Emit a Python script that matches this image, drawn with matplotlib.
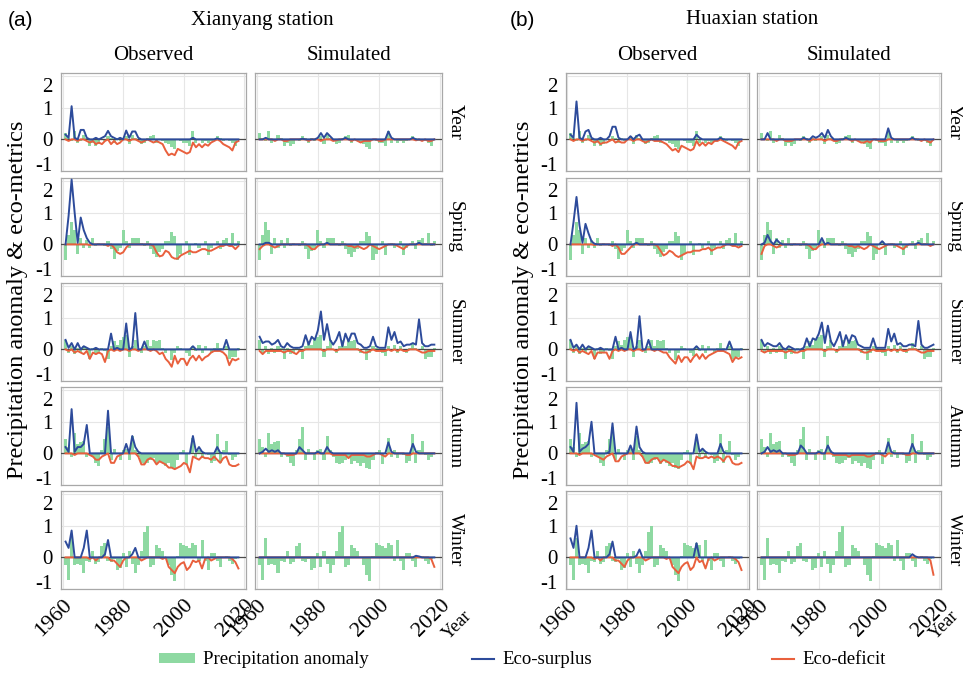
import matplotlib
matplotlib.use("Agg")
import matplotlib.pyplot as plt
from matplotlib.lines import Line2D
from matplotlib.patches import Patch
from matplotlib.transforms import blended_transform_factory, ScaledTranslation

plt.rcParams["font.family"] = ["Liberation Serif", "DejaVu Serif"]

# ---------------------------------------------------------------- data
YEARS = list(range(1961, 2019))
SEASONS = ["Year", "Spring", "Summer", "Autumn", "Winter"]
STATIONS = ["Xianyang station", "Huaxian station"]
COLUMNS = ["Observed", "Simulated"]
X_TICKS = [1960, 1980, 2000, 2020]
Y_TICKS = [-1, 0, 1, 2]

# precipitation anomaly (shared by all panels of one season)
PRECIP_YEAR = [
    0.20, 0.05, -0.05, 0.25, -0.10, -0.05, 0.15, 0.05, -0.20, -0.10,
    -0.20, -0.15, 0.00, -0.05, 0.12, 0.05, -0.10, 0.05, -0.05, 0.00,
    0.10, -0.15, 0.15, 0.05, -0.05, -0.15, -0.10, 0.05, 0.10, 0.15,
    -0.10, 0.00, -0.05, -0.10, -0.15, -0.25, -0.30, 0.00, -0.05, -0.10,
    -0.10, -0.20, 0.25, -0.10, 0.00, -0.10, -0.05, -0.10, -0.05, 0.00,
    0.10, 0.05, -0.05, 0.00, -0.05, -0.10, -0.20, 0.00]
PRECIP_SPRING = [
    -0.50, 0.30, 0.70, 0.45, -0.30, 0.20, -0.10, 0.15, -0.10, 0.20,
    -0.05, 0.05, 0.00, -0.05, 0.10, -0.15, -0.45, -0.20, -0.10, 0.45,
    0.10, -0.10, 0.20, 0.20, 0.20, 0.05, -0.05, 0.10, -0.15, -0.30,
    -0.40, -0.25, -0.15, 0.10, 0.10, 0.40, 0.25, -0.50, -0.30, 0.00,
    0.10, -0.35, 0.00, 0.05, -0.10, 0.00, 0.10, -0.35, -0.10, 0.00,
    0.10, -0.15, 0.15, 0.20, 0.05, 0.35, -0.05, 0.10]
PRECIP_SUMMER = [
    0.30, -0.10, 0.10, -0.15, 0.05, -0.10, 0.10, 0.05, -0.30, 0.05,
    -0.15, -0.10, 0.05, -0.05, -0.30, 0.10, 0.25, 0.15, 0.30, 0.40,
    0.45, -0.25, 0.10, 0.30, 0.00, -0.10, 0.10, 0.30, 0.10, 0.30,
    0.25, 0.30, 0.05, -0.10, 0.00, -0.35, -0.10, 0.10, 0.05, 0.00,
    -0.10, -0.20, 0.10, -0.05, 0.15, -0.10, 0.10, 0.00, -0.10, 0.05,
    0.20, 0.05, 0.00, 0.10, -0.30, -0.25, -0.25, 0.05]
PRECIP_AUTUMN = [
    0.45, 0.20, -0.10, 0.65, 0.30, 0.35, 0.40, -0.10, 0.00, -0.10,
    -0.30, -0.40, 0.10, 0.45, 0.85, -0.20, 0.15, 0.00, -0.20, 0.10,
    0.15, -0.20, 0.55, 0.10, -0.10, -0.30, -0.35, -0.30, -0.20, -0.15,
    -0.35, -0.25, -0.30, -0.40, -0.30, -0.45, -0.50, -0.20, 0.05, 0.10,
    -0.35, 0.00, 0.50, -0.10, 0.10, -0.15, 0.00, -0.05, -0.30, -0.25,
    0.60, -0.30, 0.10, 0.40, -0.05, -0.20, -0.10, 0.00]
PRECIP_WINTER = [
    -0.25, -0.70, 0.60, -0.25, -0.20, -0.25, -0.50, -0.10, -0.15, 0.20,
    -0.20, -0.15, 0.35, 0.45, -0.10, -0.15, -0.05, -0.40, -0.35, 0.15,
    -0.30, 0.20, -0.20, -0.50, -0.25, 0.20, 0.80, 1.00, -0.30, -0.25,
    0.40, 0.30, 0.20, 0.00, -0.25, -0.55, -0.75, 0.05, 0.45, 0.40,
    0.35, 0.30, 0.45, 0.40, -0.10, 0.55, -0.10, -0.40, 0.15, 0.15,
    -0.10, -0.30, 0.00, 0.05, -0.10, -0.20, -0.05, 0.00]

# ---- Xianyang, observed
XY_OBS_YEAR_SUR = [
    0.15, 0.05, 1.05, 0.05, 0, 0.30, 0.30, 0.05, 0, 0,
    0.05, 0, 0.05, 0.10, 0.27, 0.10, 0.05, 0, 0.05, 0,
    0.28, 0.05, 0.25, 0.25, 0.05, 0, 0, 0, 0, 0,
    0, 0, 0, 0, 0, 0, 0, 0, 0, 0,
    0, 0, 0.05, 0, 0, 0, 0, 0, 0, 0,
    0.03, 0, 0, 0, 0, 0, 0, 0]
XY_OBS_YEAR_DEF = [
    0, -0.05, 0, 0, -0.05, 0, 0, -0.05, -0.10, -0.05,
    -0.15, -0.10, -0.15, -0.05, 0, -0.15, -0.05, -0.15, -0.10, 0,
    0, -0.05, 0, 0, -0.05, -0.10, -0.05, 0, -0.05, -0.10,
    -0.05, -0.10, -0.15, -0.35, -0.50, -0.45, -0.50, -0.30, -0.35, -0.40,
    -0.45, -0.40, -0.10, -0.25, -0.15, -0.25, -0.15, -0.20, -0.10, -0.05,
    0, -0.05, -0.15, -0.20, -0.25, -0.35, -0.10, -0.05]
XY_OBS_SPR_SUR = [
    0, 0.90, 2.05, 1.00, 0.05, 0.85, 0.45, 0.20, 0.05, 0,
    0, 0, 0, 0, 0, 0, 0, 0, 0, 0,
    0, 0, 0, 0, 0, 0, 0, 0, 0, 0,
    0, 0, 0, 0, 0, 0, 0, 0, 0, 0,
    0, 0, 0, 0, 0, 0, 0, 0, 0, 0,
    0, 0, 0, 0, 0, 0, 0, 0]
XY_OBS_SPR_DEF = [
    0, 0, 0, 0, 0, 0, 0, 0, -0.02, 0,
    0, 0, 0, 0, -0.05, 0, -0.10, -0.25, -0.30, -0.25,
    -0.10, 0, 0, 0, 0, 0, 0, 0, 0, -0.05,
    -0.25, -0.38, -0.35, -0.20, -0.25, -0.40, -0.45, -0.45, -0.35, -0.30,
    -0.25, -0.20, -0.25, -0.25, -0.20, -0.15, -0.15, -0.20, -0.20, -0.15,
    -0.10, -0.05, -0.05, 0, -0.05, -0.05, -0.15, -0.05]
XY_OBS_SUM_SUR = [
    0.30, 0.05, 0.20, 0, 0.20, 0, 0.10, 0.05, 0, 0,
    0.05, 0, 0, 0, 0, 0.50, 0, 0.05, 0, 0,
    0.82, 0, 0.05, 1.15, 0, 0, 0.25, 0, 0, 0,
    0, 0, 0, 0, 0, 0, 0, 0, 0, 0,
    0, 0, 0.10, 0, 0, 0, 0, 0, 0, 0,
    0, 0, 0, 0.30, 0, 0, 0, 0]
XY_OBS_SUM_DEF = [
    0, -0.05, 0, -0.10, -0.05, -0.10, -0.15, -0.05, -0.30, -0.10,
    -0.15, -0.10, -0.15, -0.40, -0.05, 0, -0.05, 0, -0.05, 0,
    0, -0.05, 0, 0, -0.05, 0, 0, 0, -0.05, 0,
    -0.05, -0.15, -0.10, -0.30, -0.40, -0.55, -0.20, -0.45, -0.30, -0.30,
    -0.50, -0.30, -0.20, -0.35, -0.20, -0.35, -0.25, -0.20, -0.10, -0.05,
    -0.05, -0.05, -0.10, -0.20, -0.50, -0.30, -0.35, -0.30]
XY_OBS_AUT_SUR = [
    0.20, 0.05, 1.40, 0.05, 0.20, 0.20, 0.30, 0.90, 0, 0,
    0, 0, 0, 0, 1.35, 0, 0, 0, 0, 0,
    0.30, 0, 0.55, 0.20, 0.05, 0, 0, 0, 0, 0,
    0, 0, 0, 0, 0, 0, 0, 0, 0, 0,
    0, 0, 0.55, 0.05, 0.20, 0.05, 0, 0, 0, 0,
    0.20, 0.02, 0, 0, 0, 0, 0, 0]
XY_OBS_AUT_DEF = [
    0, 0, 0, -0.05, 0, 0, 0, 0, -0.05, -0.10,
    -0.20, -0.20, -0.10, -0.05, 0, -0.30, -0.30, -0.10, -0.05, 0,
    0, 0, 0, 0, -0.10, -0.35, -0.35, -0.20, -0.15, -0.20,
    -0.35, -0.25, -0.30, -0.35, -0.45, -0.45, -0.50, -0.45, -0.40, -0.30,
    -0.35, -0.60, -0.10, -0.15, -0.20, -0.10, -0.15, -0.15, -0.20, -0.10,
    -0.20, -0.30, -0.15, -0.10, -0.35, -0.40, -0.40, -0.35]
XY_OBS_WIN_SUR = [
    0.50, 0.30, 0.85, 0, 0, 0, 0.30, 0.85, 0, 0,
    0, 0, 0, 0.10, 0.55, 0, 0, 0, 0, 0,
    0, 0, 0.10, 0.30, 0, 0, 0, 0, 0, 0,
    0, 0, 0, 0, 0, 0, 0, 0, 0, 0,
    0, 0, 0, 0, 0, 0, 0, 0, 0, 0,
    0, 0, 0, 0, 0, 0, 0, 0]
XY_OBS_WIN_DEF = [
    0, 0, 0, 0, 0, 0, 0, 0, -0.05, 0,
    -0.10, 0, 0, 0, 0, -0.10, -0.10, -0.20, -0.30, -0.10,
    0, 0, 0, 0, 0, -0.10, -0.05, 0, 0, 0,
    0, 0, -0.05, 0, -0.30, -0.40, -0.50, -0.30, -0.20, -0.15,
    -0.40, -0.30, -0.10, -0.15, -0.10, -0.35, -0.05, 0, -0.10, -0.05,
    0, 0, 0, 0, 0, -0.05, -0.15, -0.35]

# ---- Xianyang, simulated
XY_SIM_YEAR_SUR = [
    0, 0, 0.05, 0, 0, 0, 0, 0, 0, 0,
    0, 0, 0, 0, 0.02, 0, 0, 0, 0, 0.05,
    0.20, 0.05, 0.20, 0.10, 0, 0, 0, 0, 0.05, 0,
    0, 0, 0, 0, 0, 0, 0, 0, 0, 0,
    0, 0, 0.25, 0.05, 0, 0, 0, 0, 0, 0,
    0.05, 0, 0, 0, 0, 0, 0, 0]
XY_SIM_YEAR_DEF = [
    0, 0, 0, 0, 0, -0.05, 0, 0, -0.05, -0.05,
    0, 0, 0, 0, 0, 0, -0.05, 0, 0, 0,
    -0.05, 0, 0, 0, -0.05, -0.03, 0, 0, 0, 0,
    -0.05, 0, -0.05, -0.10, -0.05, -0.05, -0.05, 0, 0, -0.05,
    -0.05, 0, 0, 0, 0, 0, 0, 0, 0, 0,
    0, -0.03, 0, -0.05, 0, -0.05, -0.05, 0]
XY_SIM_SPR_SUR = [
    0, 0, 0.05, 0.05, 0, 0, 0, 0, 0, 0,
    0, 0, 0, 0, 0, 0, 0, 0, 0, 0,
    0, 0, 0.05, 0, 0, 0, 0, 0, 0, 0,
    0, 0, 0, 0, 0, 0, 0, 0, 0, 0,
    0, 0, 0, 0, 0, 0, 0, 0, 0, 0,
    0, 0, 0.05, 0, 0, 0, 0, 0]
XY_SIM_SPR_DEF = [
    -0.15, -0.05, 0, 0, -0.05, -0.10, -0.05, 0, 0, 0,
    0, 0, 0, 0, 0, 0, -0.05, -0.15, -0.15, -0.05,
    0, 0, 0, 0, 0, 0, 0, 0, 0, -0.05,
    -0.05, -0.10, -0.05, -0.10, -0.15, -0.10, 0, -0.05, -0.10, -0.15,
    -0.10, -0.05, 0, 0, 0, -0.05, -0.10, -0.15, -0.05, 0,
    0, 0, 0, 0, 0, 0, 0, 0]
XY_SIM_SUM_SUR = [
    0.40, 0.20, 0.25, 0.25, 0.15, 0.20, 0.30, 0.10, 0.05, 0.20,
    0.10, 0.05, 0.05, 0.05, 0.10, 0.45, 0.15, 0.40, 0.30, 0.60,
    1.20, 0.30, 0.80, 0.30, 0.15, 0.30, 0.55, 0.10, 0.50, 0.25,
    0.50, 0.50, 0.20, 0.15, 0.05, 0.05, 0.10, 0.40, 0.10, 0.05,
    0.05, 0.05, 0.70, 0.30, 0.55, 0.20, 0.25, 0.10, 0.15, 0.15,
    0.20, 0.15, 0.95, 0.20, 0.10, 0.10, 0.15, 0.15]
XY_SIM_SUM_DEF = [
    -0.05, -0.15, -0.05, -0.05, -0.05, -0.05, -0.05, -0.05, -0.10, -0.05,
    -0.05, -0.10, -0.15, -0.05, -0.05, 0, 0, 0, 0, 0,
    0, -0.05, 0, 0, 0, -0.05, 0, 0, 0, 0,
    0, 0, 0, -0.05, -0.10, -0.10, -0.05, 0, -0.05, -0.05,
    -0.05, -0.05, 0, -0.05, 0, -0.05, 0, -0.05, -0.05, 0,
    0, 0, -0.05, -0.10, -0.10, -0.05, -0.05, -0.05]
XY_SIM_AUT_SUR = [
    0, 0.05, 0.15, 0.05, 0.10, 0.05, 0.10, 0, 0, 0,
    0, 0, 0, 0.20, 0.10, 0, 0, 0, 0, 0.05,
    0, 0, 0.20, 0.05, 0, 0, 0, 0, 0, 0,
    0, 0, 0, 0, 0, 0, 0, 0, 0, 0,
    0, 0, 0.35, 0.05, 0, 0, 0, 0, 0, 0,
    0.30, 0.05, 0, 0, 0, 0, 0, 0]
XY_SIM_AUT_DEF = [
    0, 0, 0, 0, 0, 0, 0, 0, 0, -0.05,
    -0.05, -0.05, 0, 0, 0, 0, 0, 0, 0, 0,
    0, 0, 0, 0, -0.05, -0.05, -0.05, -0.05, -0.05, -0.15,
    -0.05, -0.05, -0.05, -0.05, -0.05, -0.10, -0.10, -0.05, 0, 0,
    -0.05, -0.10, 0, 0, 0, 0, 0, 0, -0.05, -0.05,
    0, 0, 0, 0, 0, 0, 0, 0]
XY_SIM_WIN_SUR = [
    0, 0, 0, 0, 0, 0, 0, 0, 0, 0,
    0, 0, 0, 0, 0, 0, 0, 0, 0, 0,
    0, 0, 0, 0, 0, 0, 0, 0, 0, 0,
    0, 0, 0, 0, 0, 0, 0, 0, 0, 0,
    0, 0, 0, 0, 0, 0, 0, 0, 0, 0,
    0, 0.05, 0.03, 0, 0, 0, 0, 0]
XY_SIM_WIN_DEF = [
    0, 0, 0, 0, 0, 0, 0, 0, 0, 0,
    0, 0, 0, 0, 0, 0, 0, 0, 0, 0,
    0, 0, 0, 0, 0, 0, 0, 0, 0, 0,
    0, 0, 0, 0, 0, 0, 0, 0, 0, 0,
    0, 0, 0, 0, 0, 0, 0, 0, 0, 0,
    0, 0, 0, 0, 0, 0, -0.05, -0.30]

# ---- Huaxian, observed
HX_OBS_YEAR_SUR = [
    0.15, 0.05, 1.20, 0.05, 0, 0.25, 0.30, 0.05, 0, 0,
    0.05, 0, 0, 0.10, 0.40, 0.40, 0.05, 0, 0, 0,
    0.10, 0, 0.10, 0.15, 0, 0, 0, 0, 0, 0,
    0, 0, 0, 0, 0, 0, 0, 0, 0, 0,
    0, 0, 0.15, 0.05, 0, 0, 0, 0, 0, 0,
    0.05, 0, 0, 0, 0, 0, 0, 0]
HX_OBS_YEAR_DEF = [
    0, -0.05, 0, 0, -0.05, 0, 0, -0.05, -0.10, -0.05,
    -0.15, -0.10, -0.10, -0.05, 0, -0.10, -0.05, -0.10, -0.10, 0,
    0, -0.05, 0, 0, -0.05, -0.10, -0.05, 0, -0.05, -0.05,
    -0.05, -0.10, -0.15, -0.25, -0.35, -0.30, -0.40, -0.20, -0.25, -0.30,
    -0.35, -0.30, -0.05, -0.20, -0.10, -0.20, -0.10, -0.15, -0.05, -0.05,
    0, -0.05, -0.10, -0.15, -0.20, -0.30, -0.10, -0.05]
HX_OBS_SPR_SUR = [
    0, 0.70, 1.50, 0.60, 0.05, 0.65, 0.35, 0.10, 0.02, 0,
    0, 0, 0, 0, 0, 0, 0, 0, 0, 0,
    0, 0, 0.05, 0, 0, 0, 0, 0, 0, 0,
    0, 0, 0, 0, 0, 0, 0, 0, 0, 0,
    0, 0, 0, 0, 0, 0, 0, 0, 0, 0,
    0, 0, 0, 0, 0, 0, 0, 0]
HX_OBS_SPR_DEF = [
    0, 0, 0, 0, 0, 0, 0, 0, -0.02, 0,
    0, 0, 0, 0, -0.05, 0, -0.10, -0.30, -0.30, -0.20,
    -0.10, 0, 0, 0, 0, 0, 0, 0, 0, -0.05,
    -0.20, -0.35, -0.30, -0.20, -0.25, -0.35, -0.40, -0.35, -0.30, -0.25,
    -0.25, -0.20, -0.20, -0.20, -0.15, -0.15, -0.10, -0.20, -0.15, -0.10,
    -0.10, -0.05, 0, 0, -0.05, -0.05, -0.10, -0.05]
HX_OBS_SUM_SUR = [
    0.30, 0.05, 0.15, 0, 0.15, 0, 0.10, 0.05, 0, 0,
    0.05, 0, 0, 0, 0, 0.40, 0, 0.05, 0, 0,
    0.55, 0, 0.05, 1.05, 0, 0, 0.30, 0, 0, 0,
    0, 0, 0, 0, 0, 0, 0, 0, 0, 0,
    0, 0, 0.10, 0, 0, 0, 0, 0, 0, 0,
    0, 0, 0, 0.25, 0, 0, 0, 0]
HX_OBS_SUM_DEF = [
    0, -0.05, 0, -0.10, -0.05, -0.10, -0.15, -0.05, -0.30, -0.10,
    -0.10, -0.10, -0.10, -0.30, -0.05, 0, -0.05, 0, -0.05, 0,
    0, -0.05, 0, 0, -0.05, 0, 0, 0, -0.05, 0,
    -0.05, -0.10, -0.10, -0.25, -0.35, -0.45, -0.20, -0.40, -0.25, -0.25,
    -0.40, -0.25, -0.15, -0.30, -0.15, -0.30, -0.20, -0.15, -0.10, -0.05,
    -0.05, -0.05, -0.10, -0.15, -0.40, -0.25, -0.30, -0.25]
HX_OBS_AUT_SUR = [
    0.20, 0.05, 1.60, 0.05, 0.15, 0.20, 0.30, 1.00, 0, 0,
    0, 0, 0, 0.05, 0.95, 0, 0, 0, 0, 0,
    0.25, 0, 0.85, 0.20, 0.05, 0, 0, 0, 0, 0,
    0, 0, 0, 0, 0, 0, 0, 0, 0, 0,
    0, 0, 0.60, 0.05, 0.15, 0.05, 0, 0, 0, 0,
    0.30, 0.05, 0, 0, 0, 0, 0, 0]
HX_OBS_AUT_DEF = [
    0, 0, 0, -0.05, 0, 0, 0, 0, -0.05, -0.10,
    -0.15, -0.20, -0.10, -0.05, 0, -0.25, -0.25, -0.10, -0.05, 0,
    0, 0, 0, 0, -0.10, -0.30, -0.30, -0.20, -0.15, -0.15,
    -0.30, -0.20, -0.25, -0.30, -0.40, -0.40, -0.45, -0.40, -0.35, -0.25,
    -0.30, -0.50, -0.10, -0.15, -0.15, -0.10, -0.15, -0.10, -0.15, -0.10,
    -0.15, -0.25, -0.10, -0.10, -0.30, -0.35, -0.35, -0.30]
HX_OBS_WIN_SUR = [
    0.60, 0.30, 1.00, 0, 0, 0, 0.30, 0.85, 0, 0,
    0, 0, 0, 0.10, 0.50, 0, 0, 0, 0, 0,
    0, 0, 0.05, 0.25, 0, 0, 0, 0, 0, 0,
    0, 0, 0, 0, 0, 0, 0, 0, 0, 0,
    0, 0, 0.45, 0, 0, 0, 0, 0, 0, 0,
    0, 0, 0, 0, 0, 0, 0, 0]
HX_OBS_WIN_DEF = [
    0, 0, 0, 0, 0, 0, 0, 0, -0.05, 0,
    -0.10, 0, 0, 0, 0, -0.10, -0.10, -0.20, -0.30, -0.10,
    0, 0, 0, 0, 0, -0.10, -0.05, 0, 0, 0,
    0, 0, -0.05, 0, -0.30, -0.40, -0.50, -0.30, -0.20, -0.15,
    -0.40, -0.30, 0, -0.15, -0.10, -0.35, -0.05, 0, -0.10, -0.05,
    0, 0, 0, 0, 0, -0.05, -0.15, -0.40]

# ---- Huaxian, simulated
HX_SIM_YEAR_SUR = [
    0, 0, 0.20, 0, 0, 0, 0, 0, 0, 0,
    0, 0, 0, 0, 0.05, 0, 0, 0.10, 0.05, 0.10,
    0.20, 0.05, 0.30, 0.10, 0, 0, 0, 0, 0.05, 0,
    0, 0, 0, 0, 0, 0, 0, 0, 0, 0,
    0, 0, 0.35, 0.05, 0, 0, 0, 0, 0, 0,
    0.05, 0, 0, 0, 0, 0, 0, 0]
HX_SIM_YEAR_DEF = [
    0, 0, 0, 0, 0, -0.05, 0, 0, -0.05, -0.05,
    -0.05, 0, 0, 0, 0, 0, -0.05, 0, 0, 0,
    0, -0.05, 0, 0, -0.05, -0.05, 0, 0, 0, 0,
    -0.05, 0, -0.05, -0.10, -0.10, -0.05, -0.10, 0, 0, -0.05,
    -0.05, -0.05, 0, 0, 0, 0, 0, 0, 0, 0,
    0, 0, 0, -0.05, 0, -0.05, -0.10, 0]
HX_SIM_SPR_SUR = [
    0, 0.05, 0.30, 0.10, 0, 0.15, 0.05, 0, 0, 0,
    0, 0, 0, 0, 0, 0, 0, 0, 0, 0,
    0.20, 0, 0.05, 0, 0, 0, 0, 0, 0, 0,
    0, 0, 0, 0, 0, 0, 0, 0, 0, 0,
    0.10, 0, 0, 0, 0, 0, 0, 0, 0, 0,
    0, 0, 0.05, 0, 0, 0, 0, 0]
HX_SIM_SPR_DEF = [
    -0.30, -0.05, 0, 0, -0.05, -0.10, -0.05, 0, 0, 0,
    0, 0, 0, 0, 0, 0, -0.05, -0.15, -0.15, -0.05,
    0, 0, 0, 0, 0, 0, 0, 0, 0, -0.05,
    -0.05, -0.10, -0.05, -0.10, -0.15, -0.10, 0, -0.05, -0.10, -0.15,
    -0.10, -0.05, 0, 0, 0, -0.05, -0.10, -0.15, -0.05, 0,
    0, 0, 0, 0, 0, 0, -0.05, 0]
HX_SIM_SUM_SUR = [
    0.30, 0.10, 0.20, 0.15, 0.10, 0.10, 0.20, 0.05, 0, 0.10,
    0.05, 0, 0, 0, 0.05, 0.35, 0.10, 0.35, 0.30, 0.50,
    0.85, 0.20, 0.75, 0.25, 0.10, 0.30, 0.55, 0.10, 0.45, 0.20,
    0.45, 0.40, 0.15, 0.10, 0.05, 0.05, 0.05, 0.35, 0.05, 0.05,
    0.05, 0.05, 0.65, 0.25, 0.50, 0.15, 0.20, 0.10, 0.10, 0.15,
    0.15, 0.10, 0.90, 0.15, 0.05, 0.05, 0.10, 0.15]
HX_SIM_SUM_DEF = [
    -0.05, -0.10, -0.05, -0.05, -0.05, -0.05, -0.05, -0.05, -0.10, -0.05,
    -0.05, -0.10, -0.10, -0.05, -0.05, 0, 0, 0, 0, 0,
    0, -0.05, 0, 0, 0, -0.05, 0, 0, 0, 0,
    0, 0, 0, -0.05, -0.10, -0.10, -0.05, 0, -0.05, -0.05,
    -0.05, -0.05, 0, -0.05, 0, -0.05, 0, -0.05, -0.05, 0,
    0, 0, -0.05, -0.10, -0.10, -0.05, -0.05, -0.05]
HX_SIM_AUT_SUR = [
    0, 0.05, 0.20, 0.05, 0.10, 0.05, 0.10, 0, 0, 0,
    0, 0, 0, 0.25, 0.15, 0, 0, 0, 0, 0.05,
    0, 0, 0.25, 0.05, 0, 0, 0, 0, 0, 0,
    0, 0, 0, 0, 0, 0, 0, 0, 0, 0,
    0, 0, 0.35, 0.05, 0, 0, 0, 0, 0, 0,
    0.30, 0.05, 0, 0, 0, 0, 0, 0]
HX_SIM_AUT_DEF = [
    0, 0, 0, 0, 0, 0, 0, 0, 0, -0.05,
    -0.05, -0.05, 0, 0, 0, 0, 0, 0, 0, 0,
    0, 0, 0, 0, -0.05, -0.05, -0.05, -0.05, -0.05, -0.10,
    -0.05, -0.05, -0.05, -0.05, -0.05, -0.10, -0.10, -0.05, 0, 0,
    -0.05, -0.10, 0, 0, 0, 0, 0, 0, -0.05, -0.05,
    0, 0, 0, 0, 0, 0, 0, 0]
HX_SIM_WIN_SUR = [
    0, 0, 0, 0, 0, 0, 0, 0, 0, 0,
    0, 0, 0, 0, 0, 0, 0, 0, 0, 0,
    0, 0, 0, 0, 0, 0, 0, 0, 0, 0,
    0, 0, 0, 0, 0, 0, 0, 0, 0, 0,
    0, 0, 0, 0, 0, 0, 0, 0, 0, 0,
    0.10, 0.03, 0, 0, 0, 0, 0, 0]
HX_SIM_WIN_DEF = [
    0, 0, 0, 0, 0, 0, 0, 0, 0, 0,
    0, 0, 0, 0, 0, 0, 0, 0, 0, 0,
    0, 0, 0, 0, 0, 0, 0, 0, 0, 0,
    0, 0, 0, 0, 0, 0, 0, 0, 0, 0,
    0, 0, 0, 0, 0, 0, 0, 0, 0, 0,
    0, 0, 0, 0, 0, 0, -0.10, -0.55]

# lookup tables used by the drawing loop
PRECIP = [PRECIP_YEAR, PRECIP_SPRING, PRECIP_SUMMER, PRECIP_AUTUMN, PRECIP_WINTER]
LINES = {
    (0, 0): [(XY_OBS_YEAR_SUR, XY_OBS_YEAR_DEF), (XY_OBS_SPR_SUR, XY_OBS_SPR_DEF),
             (XY_OBS_SUM_SUR, XY_OBS_SUM_DEF), (XY_OBS_AUT_SUR, XY_OBS_AUT_DEF),
             (XY_OBS_WIN_SUR, XY_OBS_WIN_DEF)],
    (0, 1): [(XY_SIM_YEAR_SUR, XY_SIM_YEAR_DEF), (XY_SIM_SPR_SUR, XY_SIM_SPR_DEF),
             (XY_SIM_SUM_SUR, XY_SIM_SUM_DEF), (XY_SIM_AUT_SUR, XY_SIM_AUT_DEF),
             (XY_SIM_WIN_SUR, XY_SIM_WIN_DEF)],
    (1, 0): [(HX_OBS_YEAR_SUR, HX_OBS_YEAR_DEF), (HX_OBS_SPR_SUR, HX_OBS_SPR_DEF),
             (HX_OBS_SUM_SUR, HX_OBS_SUM_DEF), (HX_OBS_AUT_SUR, HX_OBS_AUT_DEF),
             (HX_OBS_WIN_SUR, HX_OBS_WIN_DEF)],
    (1, 1): [(HX_SIM_YEAR_SUR, HX_SIM_YEAR_DEF), (HX_SIM_SPR_SUR, HX_SIM_SPR_DEF),
             (HX_SIM_SUM_SUR, HX_SIM_SUM_DEF), (HX_SIM_AUT_SUR, HX_SIM_AUT_DEF),
             (HX_SIM_WIN_SUR, HX_SIM_WIN_DEF)],
}

# ---------------------------------------------------------------- style
GREEN = "#8ed9a2"
BLUE = "#2d4b9b"
RED = "#e9603d"
SPINE = "#a8a8a8"
GRID = "#e6e6e6"

W, H = 963, 673
fig = plt.figure(figsize=(W / 100, H / 100), dpi=100)

# panel geometry in pixels: columns (left, right) and row tops
COL_EDGES = [(61, 246), (255, 442), (566, 749), (757, 941)]
ROW_TOPS = [73, 178, 283, 387, 491]
ROW_H = 98


def panel_rect(col, row):
    left, right = COL_EDGES[col]
    top = ROW_TOPS[row]
    return [left / W, 1 - (top + ROW_H) / H, (right - left) / W, ROW_H / H]


def px(dx, dy):
    """Offset in screen pixels (right, up)."""
    return ScaledTranslation(dx / 100, dy / 100, fig.dpi_scale_trans)


for st in range(2):
    for kind in range(2):
        col = st * 2 + kind
        for row, season in enumerate(SEASONS):
            ax = fig.add_axes(panel_rect(col, row))
            sur, dfc = LINES[(st, kind)][row]
            ax.bar(YEARS, PRECIP[row], width=1.0, color=GREEN, linewidth=0, zorder=2)
            ax.axhline(0, color="#4a4a4a", lw=0.9, zorder=3)
            ax.plot(YEARS, dfc, color=RED, lw=1.4, zorder=4)
            ax.plot(YEARS, sur, color=BLUE, lw=1.4, zorder=5)

            ax.set_xlim(1959.5, 2020.5)
            ax.set_ylim(-1.0, 2.1)
            ax.set_xticks(X_TICKS)
            ax.set_yticks(Y_TICKS)
            ax.grid(True, color=GRID, lw=0.8, zorder=0)
            ax.set_axisbelow(True)
            for sp in ax.spines.values():
                sp.set_color(SPINE)
                sp.set_linewidth(0.9)
            ax.tick_params(length=0, labelleft=False, labelbottom=False)

            # rotated year labels under the bottom row
            if row == 4:
                xt = blended_transform_factory(ax.transData, ax.transAxes)
                for xv in X_TICKS:
                    ax.text(xv, 0, str(xv), transform=xt + px(0, -7), rotation=45,
                            rotation_mode="anchor", ha="right", va="top", fontsize=16)

            # y labels on the observed column of each station
            if kind == 0:
                yt = blended_transform_factory(ax.transAxes, ax.transData)
                for yv in Y_TICKS:
                    dy = 0
                    if yv == max(Y_TICKS):
                        dy = -9
                    elif yv == min(Y_TICKS):
                        dy = 7
                    ax.text(-0.045, yv, str(yv), transform=yt + px(0, dy), ha="right",
                            va="center_baseline", fontsize=15)

            # season name on the right of the simulated column
            if kind == 1:
                ax.text(1.025, 0.5, season, transform=ax.transAxes, rotation=-90,
                        ha="left", va="center", fontsize=14)
                if row == 4:
                    shift = 15 if st == 0 else 3
                    ax.text(1.0, 0.0, "Year", transform=ax.transAxes + px(shift, -36),
                            rotation=45, ha="center", va="center", fontsize=13)

            if row == 0:
                ax.set_title(COLUMNS[kind], fontsize=15, pad=9)

# station headings, panel letters and y-axis titles
fig.text(262 / W, 1 - 20 / H, STATIONS[0], ha="center", va="center", fontsize=15)
fig.text(752 / W, 1 - 20 / H, STATIONS[1], ha="center", va="center", fontsize=15)
fig.text(8 / W, 1 - 20 / H, "(a)", ha="left", va="center", fontsize=15,
         family="Liberation Sans")
fig.text(510 / W, 1 - 20 / H, "(b)", ha="left", va="center", fontsize=15,
         family="Liberation Sans")
ylab = "Precipitation anomaly & eco-metrics"
fig.text(18 / W, 1 - 300 / H, ylab, rotation=90, ha="center", va="center", fontsize=17.5)
fig.text(523 / W, 1 - 300 / H, ylab, rotation=90, ha="center", va="center", fontsize=17.5)

# legend along the bottom
legend_items = [
    (Patch(facecolor=GREEN, edgecolor="none"), "Precipitation anomaly", 142, 1.9),
    (Line2D([], [], color=BLUE, lw=1.5), "Eco-surplus", 455, 1.2),
    (Line2D([], [], color=RED, lw=1.5), "Eco-deficit", 755, 1.2),
]
for handle, text, xpix, hlen in legend_items:
    fig.legend([handle], [text], loc="center left",
               bbox_to_anchor=(xpix / W, 1 - 660 / H), frameon=False,
               fontsize=13.5, handlelength=hlen, handleheight=0.45, handletextpad=0.45)

fig.savefig("out.png", dpi=100, facecolor="white")
